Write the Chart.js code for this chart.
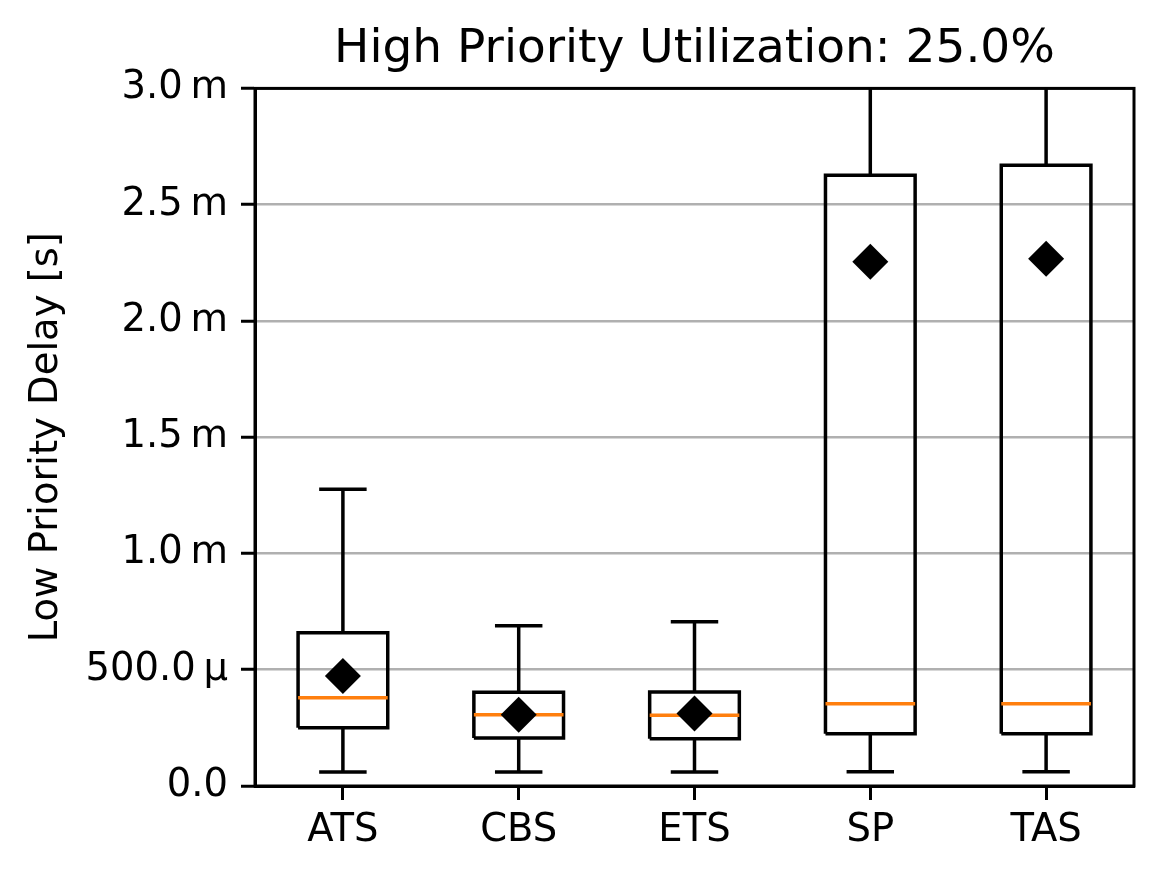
<!DOCTYPE html>
<html lang="en">
<head>
<meta charset="UTF-8">
<title>Low Priority Delay</title>
<script src="https://cdn.jsdelivr.net/npm/chart.js"></script>
<style>
  html, body { margin: 0; padding: 0; background: #fff; }
</style>
</head>
<body>
<canvas id="delayChart" width="1164" height="881"></canvas>
<script>
// box statistics, in milliseconds
const categories = ['ATS', 'CBS', 'ETS', 'SP', 'TAS'];
const whiskerLow = [0.060, 0.060, 0.060, 0.061, 0.061];
const q1 = [0.251, 0.206, 0.203, 0.225, 0.225];
const median = [0.380, 0.306, 0.304, 0.354, 0.354];
const q3 = [0.659, 0.403, 0.404, 2.627, 2.670];
const whiskerHigh = [1.276, 0.689, 0.706, 4.2, 4.3]; // SP/TAS run past the top of the axis
const means = [0.473, 0.306, 0.312, 2.255, 2.267];
const yTicks = [0, 0.5, 1.0, 1.5, 2.0, 2.5, 3.0];

const BOX_HALF = 0.255;
const CAP_HALF = 0.135;
const GAP = (i) => ({ x: i, y: null });

const boxPts = [], whiskerPts = [], capPts = [], medianPts = [], meanPts = [];
categories.forEach((c, i) => {
    boxPts.push(
        { x: i - BOX_HALF, y: q1[i] }, { x: i + BOX_HALF, y: q1[i] },
        { x: i + BOX_HALF, y: q3[i] }, { x: i - BOX_HALF, y: q3[i] },
        { x: i - BOX_HALF, y: q1[i] }, GAP(i));
    whiskerPts.push(
        { x: i, y: whiskerLow[i] }, { x: i, y: q1[i] }, GAP(i),
        { x: i, y: q3[i] }, { x: i, y: whiskerHigh[i] }, GAP(i));
    capPts.push(
        { x: i - CAP_HALF, y: whiskerLow[i] }, { x: i + CAP_HALF, y: whiskerLow[i] }, GAP(i),
        { x: i - CAP_HALF, y: whiskerHigh[i] }, { x: i + CAP_HALF, y: whiskerHigh[i] }, GAP(i));
    medianPts.push({ x: i - BOX_HALF, y: median[i] }, { x: i + BOX_HALF, y: median[i] }, GAP(i));
    meanPts.push({ x: i, y: means[i] });
});

const lineSet = (label, data, color, order) => ({
    label, data, order,
    showLine: true, spanGaps: false,
    borderColor: color, borderWidth: 3.5,
    borderJoinStyle: 'miter', borderCapStyle: 'butt',
    pointRadius: 0, clip: 0
});

// matplotlib-style frame on all four sides
const frame = {
    id: 'frame',
    afterDatasetsDraw(chart) {
        const { ctx, chartArea: a } = chart;
        ctx.save();
        ctx.strokeStyle = '#000';
        ctx.lineWidth = 3;
        ctx.strokeRect(a.left, a.top, a.right - a.left, a.bottom - a.top);
        ctx.restore();
    }
};

// engineering-style labels: 0.0, 500.0 µ, 1.0 m ...
function engLabel(v) {
    if (Math.abs(v) < 1e-9) return '0.0';
    if (v < 1) return (v * 1000).toFixed(1) + '\u2009µ';
    return v.toFixed(1) + '\u2009m';
}

const font = 'DejaVu Sans';
new Chart(document.getElementById('delayChart').getContext('2d'), {
    type: 'scatter',
    data: {
        datasets: [
            lineSet('box', boxPts, '#000', 3),
            lineSet('whisker', whiskerPts, '#000', 4),
            lineSet('cap', capPts, '#000', 4),
            lineSet('median', medianPts, '#ff7f0e', 2),
            {
                label: 'mean', data: meanPts, order: 0,
                pointStyle: 'rectRot', pointRadius: 18,
                backgroundColor: '#000', borderColor: '#000', borderWidth: 0
            }
        ]
    },
    options: {
        responsive: false,
        animation: false,
        devicePixelRatio: 1,
        events: [],
        layout: { padding: { left: 0, right: 30, top: 0, bottom: 0 } },
        plugins: {
            legend: { display: false },
            tooltip: { enabled: false },
            title: {
                display: true,
                fullSize: false,
                text: 'High Priority Utilization: 25.0%',
                color: '#000',
                font: { family: font, size: 47, weight: 'normal' },
                padding: { top: 22, bottom: 10 }
            }
        },
        scales: {
            x: {
                type: 'linear',
                min: -0.5, max: 4.5,
                afterBuildTicks: (s) => { s.ticks = categories.map((c, i) => ({ value: i })); },
                afterFit: (s) => { s.height = 95; },
                ticks: {
                    color: '#000',
                    font: { family: font, size: 38.5 },
                    padding: 8,
                    maxRotation: 0,
                    callback: (v) => categories[v] ?? ''
                },
                grid: {
                    drawOnChartArea: false, drawTicks: true,
                    tickLength: 14, tickWidth: 3, tickColor: '#000'
                },
                border: { color: '#000', width: 3 }
            },
            y: {
                min: 0, max: 3.0,
                afterBuildTicks: (s) => { s.ticks = yTicks.map(v => ({ value: v })); },
                afterFit: (s) => { s.width = 255; },
                title: {
                    display: true,
                    text: 'Low Priority Delay [s]',
                    color: '#000',
                    font: { family: font, size: 38.5 },
                    padding: { top: 24 }
                },
                ticks: {
                    color: '#000',
                    font: { family: font, size: 38.5 },
                    padding: 13,
                    callback: engLabel
                },
                grid: {
                    color: '#b0b0b0', lineWidth: 2.5,
                    tickLength: 14, tickWidth: 3, tickColor: '#000'
                },
                border: { color: '#000', width: 3 }
            }
        }
    },
    plugins: [frame]
});
</script>
</body>
</html>
